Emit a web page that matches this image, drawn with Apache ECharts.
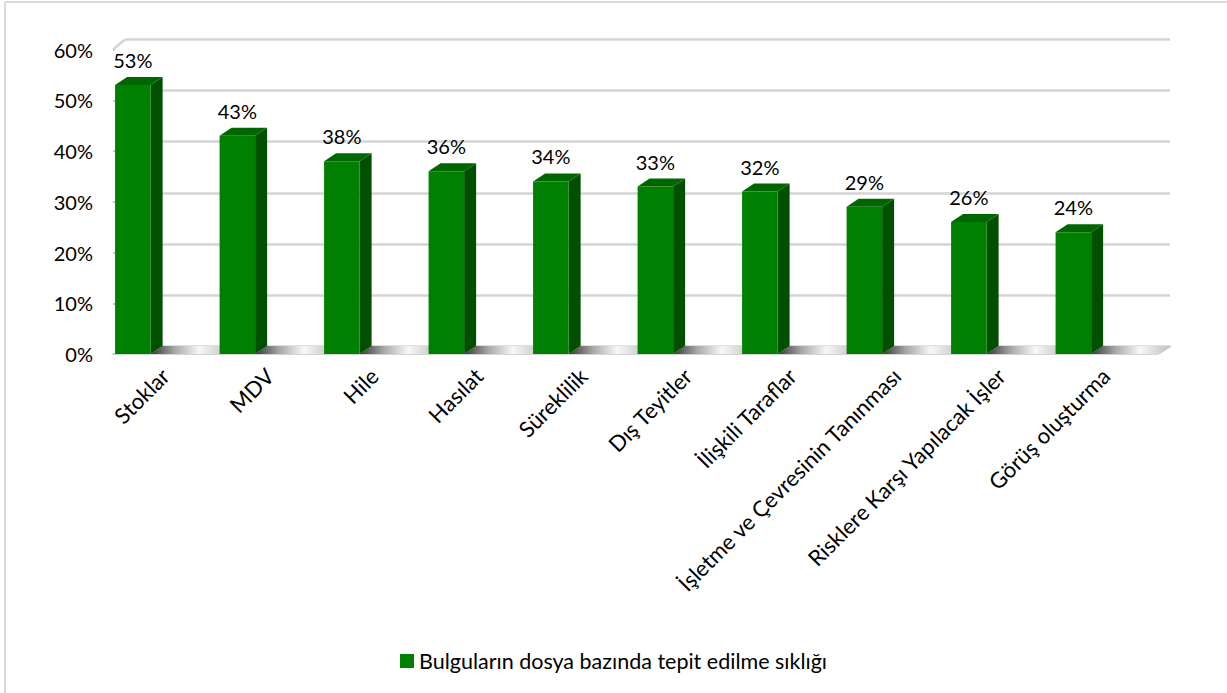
<!DOCTYPE html>
<html>
<head>
<meta charset="utf-8">
<script src="https://cdn.jsdelivr.net/npm/echarts@6/dist/echarts.min.js"></script>
<style>
  html, body { margin: 0; padding: 0; background: #fff; }
  #chart { width: 1227px; height: 693px; }
</style>
</head>
<body>
<div id="chart"></div>
<script>
// kategoriler ve degerler
var categories = ['Stoklar', 'MDV', 'Hile', 'Hasılat', 'Süreklilik', 'Dış Teyitler',
  'İlişkili Taraflar', 'İşletme ve Çevresinin Tanınması', 'Risklere Karşı Yapılacak İşler', 'Görüş oluşturma'];
var values = [0.53, 0.43, 0.38, 0.36, 0.34, 0.33, 0.32, 0.29, 0.26, 0.24];
var seriesName = 'Bulguların dosya bazında tepit edilme sıklığı';

var FONT = 'Lato, "Open Sans", sans-serif';
var DX = 12, DY = -8; // 3B derinlik kaydirmasi

var myChart = echarts.init(document.getElementById('chart'), null, { renderer: 'svg' });

function renderBar(params, api) {
  var band = api.size([1, 0])[0];
  var v = api.value(1);
  var top = api.coord([api.value(0), v]);
  var base = api.coord([api.value(0), 0]);
  var x0 = base[0] - band * 0.48;
  var w = band * 0.34;
  var xr = x0 + w;
  var yt = top[1], yb = base[1];
  return {
    type: 'group',
    children: [
      { // zemin golgesi
        type: 'polygon',
        shape: { points: [[xr, yb], [xr + DX, yb + DY], [x0 + band + DX, yb + DY], [x0 + band, yb]] },
        style: {
          fill: new echarts.graphic.LinearGradient(0, 0, 1, 0, [
            { offset: 0, color: '#353535' },
            { offset: 0.3, color: '#a8a8a8' },
            { offset: 0.6, color: '#f7f7f7' },
            { offset: 1, color: '#bdbdbd' }
          ])
        }
      },
      {
        type: 'polygon',
        shape: { points: [[xr, yt], [xr + DX, yt + DY], [xr + DX, yb + DY], [xr, yb]] },
        style: { fill: '#005000' }
      },
      {
        type: 'polygon',
        shape: { points: [[x0, yt], [x0 + DX, yt + DY], [xr + DX, yt + DY], [xr, yt]] },
        style: { fill: '#006600' }
      },
      {
        type: 'rect',
        shape: { x: x0, y: yt, width: w, height: yb - yt },
        style: { fill: '#008000' }
      },
      {
        type: 'text',
        x: x0 + w / 2,
        y: yt + DY - 17,
        style: {
          text: Math.round(v * 100) + '%',
          fill: '#000',
          font: '20px ' + FONT,
          align: 'center',
          verticalAlign: 'middle'
        }
      }
    ]
  };
}

var option = {
  backgroundColor: '#fff',
  animation: false,
  graphic: [
    { type: 'line', shape: { x1: 5, y1: 2, x2: 1227, y2: 2 }, style: { stroke: '#d9d9d9', lineWidth: 2 } },
    { type: 'line', shape: { x1: 5, y1: 2, x2: 5, y2: 693 }, style: { stroke: '#d9d9d9', lineWidth: 2 } },
    // sol duvarin ust kenari
    { type: 'line', shape: { x1: 113, y1: 49.5, x2: 125, y2: 39.5 }, style: { stroke: '#d4d4d4', lineWidth: 2.5 } }
  ],
  legend: {
    data: [seriesName],
    top: 645,
    left: 'center',
    icon: 'rect',
    itemWidth: 14,
    itemHeight: 14,
    itemGap: 6,
    textStyle: { fontFamily: FONT, fontSize: 21.5, color: '#000' }
  },
  grid: [
    { left: 113, right: 69, top: 49.5, bottom: 339 },   // on yuz
    { left: 125, right: 57, top: 39.5, bottom: 347 }    // arka duvar
  ],
  xAxis: [
    {
      type: 'category', gridIndex: 0, data: categories,
      axisLine: { show: true, lineStyle: { color: '#d4d4d4', width: 2 } },
      axisTick: { show: false },
      axisLabel: {
        rotate: 45, margin: 18, interval: 0,
        fontFamily: FONT, fontSize: 22, color: '#000'
      }
    },
    {
      type: 'category', gridIndex: 1, data: categories,
      axisLine: { show: false }, axisTick: { show: false }, axisLabel: { show: false }
    }
  ],
  yAxis: [
    {
      type: 'value', gridIndex: 0, min: 0, max: 0.6, interval: 0.1,
      axisLine: { show: false },
      axisTick: { show: true, inside: true, length: 2, lineStyle: { color: '#c8c8c8', width: 2 } },
      splitLine: { show: false },
      axisLabel: {
        margin: 20, fontFamily: FONT, fontSize: 20, color: '#000',
        formatter: function (val) { return Math.round(val * 100) + '%'; }
      }
    },
    {
      type: 'value', gridIndex: 1, min: 0, max: 0.6, interval: 0.1,
      axisLine: { show: false }, axisTick: { show: false }, axisLabel: { show: false },
      splitLine: { show: true, lineStyle: { color: '#d4d4d4', width: 2.5 } }
    }
  ],
  series: [{
    name: seriesName,
    type: 'custom',
    xAxisIndex: 0,
    yAxisIndex: 0,
    itemStyle: { color: '#008000' },
    renderItem: renderBar,
    encode: { x: 0, y: 1 },
    data: categories.map(function (c, i) { return [i, values[i]]; })
  }]
};

myChart.setOption(option);
</script>
</body>
</html>
